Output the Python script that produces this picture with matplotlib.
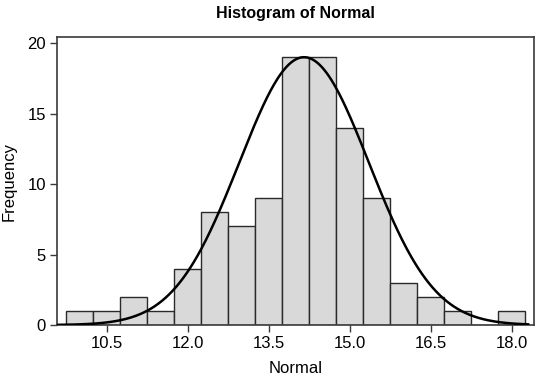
import numpy as np
import matplotlib
matplotlib.use("Agg")
import matplotlib.pyplot as plt

plt.rcParams["font.family"] = ["Liberation Sans Narrow", "Liberation Sans", "DejaVu Sans"]

# histogram bins (centres) and counts
bin_centers = [10.0, 10.5, 11.0, 11.5, 12.0, 12.5, 13.0, 13.5, 14.0,
               14.5, 15.0, 15.5, 16.0, 16.5, 17.0, 17.5, 18.0]
counts = [1, 1, 2, 1, 4, 8, 7, 9, 19, 19, 14, 9, 3, 2, 1, 0, 1]
bin_width = 0.5

# fitted normal curve (estimated)
curve_mean = 14.15
curve_sd = 1.2
curve_peak = 19.0
curve_range = (9.6, 18.3)

x_ticks = [10.5, 12.0, 13.5, 15.0, 16.5, 18.0]
y_ticks = [0, 5, 10, 15, 20]

fig = plt.figure(figsize=(5.35, 3.84), dpi=100)
ax = fig.add_axes([0.1065, 0.1536, 0.8915, 0.75])

ax.bar(bin_centers, counts, width=bin_width, color="#d9d9d9",
       edgecolor="#2a2a2a", linewidth=1.0, zorder=2)

xs = np.linspace(curve_range[0], curve_range[1], 400)
ys = curve_peak * np.exp(-0.5 * ((xs - curve_mean) / curve_sd) ** 2)
ax.plot(xs, ys, color="black", linewidth=1.8, zorder=3)

ax.set_xlim(9.574, 18.407)
ax.set_ylim(0, 20.43)
ax.set_xticks(x_ticks)
ax.set_xticklabels([f"{t:.1f}" for t in x_ticks])
ax.set_yticks(y_ticks)

for s in ax.spines.values():
    s.set_color("#3a3a3a")
    s.set_linewidth(1.2)

ax.tick_params(direction="out", length=5, width=1.0, color="#3a3a3a",
               labelsize=12, pad=3)

ax.set_title("Histogram of Normal", fontsize=11.5, fontweight="bold", pad=14)
ax.set_xlabel("Normal", fontsize=12, labelpad=7)
ax.set_ylabel("Frequency", fontsize=12, labelpad=8)

fig.savefig("out.png", dpi=100)
